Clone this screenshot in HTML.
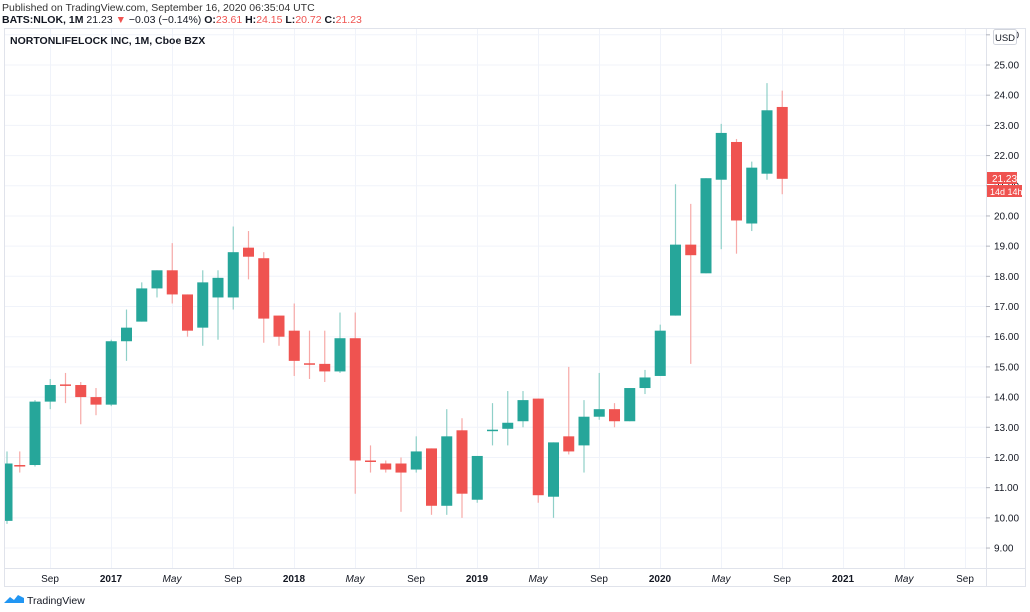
<!DOCTYPE html>
<html><head><meta charset="utf-8"><style>
html,body{margin:0;padding:0;background:#fff;width:1030px;height:612px;overflow:hidden;font-family:"Liberation Sans",sans-serif}
</style></head><body>
<svg id="s" width="1030" height="612" xmlns="http://www.w3.org/2000/svg" style="position:absolute;left:0;top:0">
<defs><clipPath id="pc"><rect x="5" y="29" width="981" height="539"/></clipPath></defs>
<text x="2" y="11" font-size="10.5" fill="#333">Published on TradingView.com, September 16, 2020 06:35:04 UTC</text>
<text x="2" y="23" font-size="10.5" fill="#131722"><tspan font-weight="bold">BATS:NLOK, 1M</tspan> 21.23 <tspan fill="#ef5350">▼</tspan> −0.03 (−0.14%) <tspan font-weight="bold">O:</tspan><tspan fill="#ef5350">23.61</tspan> <tspan font-weight="bold">H:</tspan><tspan fill="#ef5350">24.15</tspan> <tspan font-weight="bold">L:</tspan><tspan fill="#ef5350">20.72</tspan> <tspan font-weight="bold">C:</tspan><tspan fill="#ef5350">21.23</tspan></text>
<g id="grid"></g>
<rect x="4.5" y="28.5" width="1021" height="558" fill="none" stroke="#e0e3eb"/>
<line x1="986.5" y1="28" x2="986.5" y2="587" stroke="#e0e3eb"/>
<line x1="4" y1="568.5" x2="1026" y2="568.5" stroke="#e0e3eb"/>
<text x="10" y="44" font-size="10.5" font-weight="bold" fill="#131722">NORTONLIFELOCK INC, 1M, Cboe BZX</text>
<g id="c" clip-path="url(#pc)"></g>
<g id="lab" font-size="10" fill="#131722"></g>
<rect x="993.5" y="29.5" width="23" height="15" rx="2" fill="#fff" stroke="#d1d4dc"/>
<text x="1005" y="41" font-size="9.5" text-anchor="middle" fill="#131722">USD</text>
<rect x="987" y="172" width="30" height="12" fill="#ef5350"/>
<text x="992" y="182" font-size="10" fill="#fff">21.23</text>
<rect x="987" y="185" width="35" height="12" fill="#ef5350"/>
<text x="990" y="195" font-size="9" fill="#fff">14d 14h</text>
<g font-size="10" fill="#131722" text-anchor="middle">
<text x="50" y="582">Sep</text><text x="111" y="582" font-weight="bold">2017</text><text x="172" y="582" font-style="italic">May</text>
<text x="233" y="582">Sep</text><text x="294" y="582" font-weight="bold">2018</text><text x="355" y="582" font-style="italic">May</text>
<text x="416" y="582">Sep</text><text x="477" y="582" font-weight="bold">2019</text><text x="538" y="582" font-style="italic">May</text>
<text x="599" y="582">Sep</text><text x="660" y="582" font-weight="bold">2020</text><text x="721" y="582" font-style="italic">May</text>
<text x="782" y="582">Sep</text><text x="843" y="582" font-weight="bold">2021</text><text x="904" y="582" font-style="italic">May</text>
<text x="965" y="582">Sep</text>
</g>
<g transform="translate(4,594)"><path d="M0 9 L6 3 L10 6 L14 1 L20 4 L20 9 Z" fill="#2196f3"/></g>
<text x="27" y="604" font-size="10.5" fill="#131722">TradingView</text>
</svg>
<script>
var Y=function(p){return 65+(25-p)*30.19;};
var g=document.getElementById('grid'),c=document.getElementById('c'),lab=document.getElementById('lab'),h='',l='';
for(var p=9;p<=26;p++){var y=Y(p);h+='<line x1="4" x2="986" y1="'+y.toFixed(1)+'" y2="'+y.toFixed(1)+'" stroke="#f0f3fa"/>';
l+='<line x1="986" x2="990" y1="'+y+'" y2="'+y+'" stroke="#b2b5be"/><text x="994" y="'+(y+3.5)+'">'+p.toFixed(2)+'</text>';}
for(var i=0;i<16;i++){var x=50+i*61;h+='<line y1="28" y2="568" x1="'+x+'.5" x2="'+x+'.5" stroke="#f0f3fa"/>';}
g.innerHTML=h;lab.innerHTML=l;
var d=[[9.9,11.8,12.2,9.8],[11.75,11.7,12.2,11.5],[11.75,13.85,13.9,11.7],[13.85,14.4,14.6,13.6],[14.42,14.38,14.8,13.8],[14.4,14.0,14.5,13.1],[14.0,13.75,14.3,13.4],[13.75,15.85,15.9,13.7],[15.85,16.3,16.9,15.2],[16.5,17.6,17.8,16.5],[17.6,18.2,18.2,17.3],[18.2,17.4,19.1,17.1],[17.4,16.2,17.4,16.0],[16.3,17.8,18.2,15.7],[17.3,17.95,18.2,15.9],[17.3,18.8,19.65,16.9],[18.95,18.65,19.5,17.9],[18.6,16.6,18.8,15.8],[16.7,16.0,16.7,15.7],[16.2,15.2,17.1,14.7],[15.12,15.08,16.2,14.6],[15.1,14.85,16.2,14.5],[14.85,15.95,16.8,14.8],[15.95,11.9,16.8,10.8],[11.9,11.85,12.4,11.5],[11.8,11.6,11.9,11.5],[11.8,11.5,12.0,10.2],[11.6,12.2,12.7,11.5],[12.3,10.4,12.3,10.1],[10.4,12.7,13.6,10.1],[12.9,10.8,13.3,10.0],[10.6,12.05,12.05,10.5],[12.88,12.92,13.8,12.4],[12.95,13.15,14.2,12.4],[13.2,13.9,14.2,13.0],[13.95,10.75,13.95,10.5],[10.7,12.5,12.5,10.0],[12.7,12.2,15.0,12.1],[12.4,13.35,13.9,11.5],[13.35,13.6,14.8,13.25],[13.6,13.2,13.8,13.0],[13.2,14.3,14.3,13.2],[14.3,14.65,14.9,14.1],[14.7,16.2,16.4,14.7],[16.7,19.05,21.05,16.7],[19.05,18.7,20.4,15.1],[18.1,21.25,21.25,18.1],[21.2,22.75,23.05,18.9],[22.45,19.85,22.55,18.75],[19.75,21.6,21.8,19.5],[21.4,23.5,24.4,21.2],[23.61,21.23,24.15,20.72]];
var s='';
d.forEach(function(k,i){var x=4.5+i*15.25;if(i==0)x=7;var up=k[1]>=k[0],col=up?'#26a69a':'#ef5350',wc=up?'#8fd0c8':'#f7a9a7';
var t=Y(Math.max(k[0],k[1])),b=Y(Math.min(k[0],k[1]));if(b-t<1.5){b=t+1.5;}
s+='<line x1="'+x+'" x2="'+x+'" y1="'+Y(k[2])+'" y2="'+Y(k[3])+'" stroke="'+wc+'" stroke-width="1.2"/>';
s+='<rect x="'+(x-5.5)+'" y="'+t+'" width="11" height="'+(b-t)+'" fill="'+col+'"/>';});
c.innerHTML=s;
</script>
</body></html>
